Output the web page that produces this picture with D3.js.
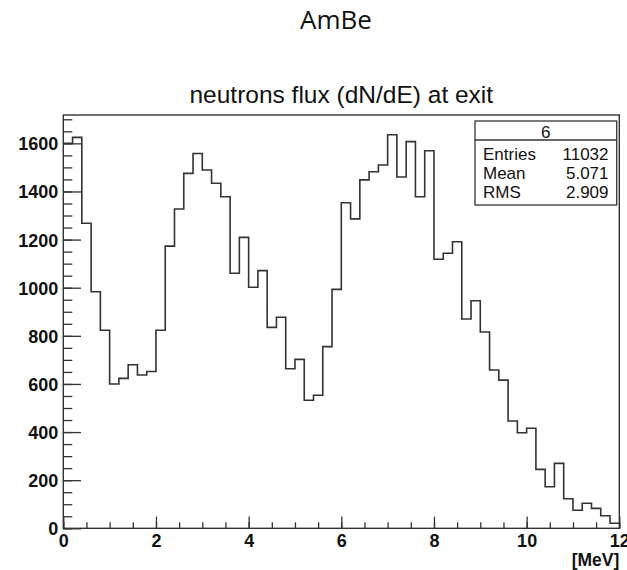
<!DOCTYPE html>
<html>
<head>
<meta charset="utf-8">
<script src="https://cdn.jsdelivr.net/npm/d3@7"></script>
<style>
  body { margin: 0; background: #fff; }
  svg text { fill: #111; }
</style>
</head>
<body>
<div id="chart"></div>
<script>
// histogram of neutron energies, 60 bins of 0.2 MeV from 0 to 12
var binLow = 0, binWidth = 0.2;
var counts = [
  1600, 1625, 1268, 983, 823, 600, 623, 680, 637, 652,
  823, 1173, 1327, 1475, 1558, 1489, 1434, 1378, 1060, 1209,
  1002, 1071, 835, 877, 663, 702, 532, 553, 755, 993,
  1353, 1286, 1448, 1482, 1510, 1636, 1460, 1607, 1378, 1569,
  1118, 1143, 1191, 870, 946, 816, 658, 616, 446, 397,
  416, 245, 173, 270, 123, 75, 104, 83, 52, 21
];
var xTicks = [0, 2, 4, 6, 8, 10, 12];
var yTicks = [0, 200, 400, 600, 800, 1000, 1200, 1400, 1600];
var statLabels = ["Entries", "Mean", "RMS"];
var statValues = ["11032", "5.071", "2.909"];

var W = 627, H = 570;
var fLeft = 63.3, fRight = 619.3, fTop = 115, fBottom = 528.3;
var font = "'Liberation Sans', Arial, sans-serif";

var svg = d3.select("#chart").append("svg")
  .attr("width", W).attr("height", H);

var x = d3.scaleLinear().domain([0, 12]).range([fLeft, fRight]);
var yMax = d3.max(counts) * 1.05;
var y = d3.scaleLinear().domain([0, yMax]).range([fBottom, fTop]);

// page title
svg.append("text")
  .attr("x", 336).attr("y", 29)
  .attr("text-anchor", "middle")
  .style("font-family", "'Open Sans', sans-serif")
  .style("font-size", "26px")
  .text("AmBe");

// histogram title
svg.append("text")
  .attr("x", (fLeft + fRight) / 2).attr("y", 103)
  .attr("text-anchor", "middle")
  .style("font-family", font)
  .style("font-size", "24.5px")
  .text("neutrons flux (dN/dE) at exit");

// histogram steps
var pts = counts.map(function (d, i) { return [binLow + i * binWidth, d]; });
pts.push([binLow + counts.length * binWidth, counts[counts.length - 1]]);
var line = d3.line()
  .x(function (d) { return x(d[0]); })
  .y(function (d) { return y(d[1]); })
  .curve(d3.curveStepAfter);
svg.append("path")
  .attr("d", line(pts))
  .attr("fill", "none")
  .attr("stroke", "#333")
  .attr("stroke-width", 1.6);

// frame
svg.append("rect")
  .attr("x", fLeft).attr("y", fTop)
  .attr("width", fRight - fLeft).attr("height", fBottom - fTop)
  .attr("fill", "none").attr("stroke", "#333").attr("stroke-width", 1.4);

// y axis (ticks point inward)
var yMinor = d3.range(0, yMax, 50);
svg.append("g")
  .attr("transform", "translate(" + fLeft + ",0)")
  .call(d3.axisLeft(y).tickValues(yMinor).tickSize(-9).tickFormat(""))
  .call(function (g) { g.select(".domain").remove(); });
var yAxis = svg.append("g")
  .attr("transform", "translate(" + fLeft + ",0)")
  .call(d3.axisLeft(y).tickValues(yTicks).tickSize(-17.7).tickPadding(5).tickFormat(d3.format("d")))
  .call(function (g) { g.select(".domain").remove(); });
yAxis.selectAll("text")
  .attr("dy", "0.36em")
  .style("font-family", font)
  .style("font-weight", "bold")
  .style("font-size", "18px");

// x axis
var xMinor = d3.range(0, 12.01, 0.5);
svg.append("g")
  .attr("transform", "translate(0," + fBottom + ")")
  .call(d3.axisBottom(x).tickValues(xMinor).tickSize(-6).tickFormat(""))
  .call(function (g) { g.select(".domain").remove(); });
var xAxis = svg.append("g")
  .attr("transform", "translate(0," + fBottom + ")")
  .call(d3.axisBottom(x).tickValues(xTicks).tickSize(-11.7).tickPadding(6).tickFormat(d3.format("d")))
  .call(function (g) { g.select(".domain").remove(); });
xAxis.selectAll("text")
  .style("font-family", font)
  .style("font-weight", "bold")
  .style("font-size", "18px");
svg.selectAll(".tick line").attr("stroke", "#333").attr("stroke-width", 1.3);

svg.append("text")
  .attr("x", fRight).attr("y", 566)
  .attr("text-anchor", "end")
  .style("font-family", font)
  .style("font-weight", "bold")
  .style("font-size", "17.5px")
  .text("[MeV]");

// stats box
var bx = 475, by = 121, bw = 141.7, bh = 84;
var stats = svg.append("g");
stats.append("rect")
  .attr("x", bx).attr("y", by).attr("width", bw).attr("height", bh)
  .attr("fill", "#fff").attr("stroke", "#333").attr("stroke-width", 1.3);
stats.append("line")
  .attr("x1", bx).attr("x2", bx + bw).attr("y1", 140).attr("y2", 140)
  .attr("stroke", "#333").attr("stroke-width", 1.3);
stats.append("text")
  .attr("x", bx + bw / 2).attr("y", 137.5)
  .attr("text-anchor", "middle")
  .style("font-family", font)
  .style("font-size", "17px")
  .text("6");
statLabels.forEach(function (s, i) {
  var yy = 160 + i * 19.2;
  stats.append("text")
    .attr("x", 483).attr("y", yy)
    .style("font-family", font)
    .style("font-size", "17px")
    .text(s);
  stats.append("text")
    .attr("x", 608.5).attr("y", yy)
    .attr("text-anchor", "end")
    .style("font-family", font)
    .style("font-size", "17px")
    .text(statValues[i]);
});
</script>
</body>
</html>
